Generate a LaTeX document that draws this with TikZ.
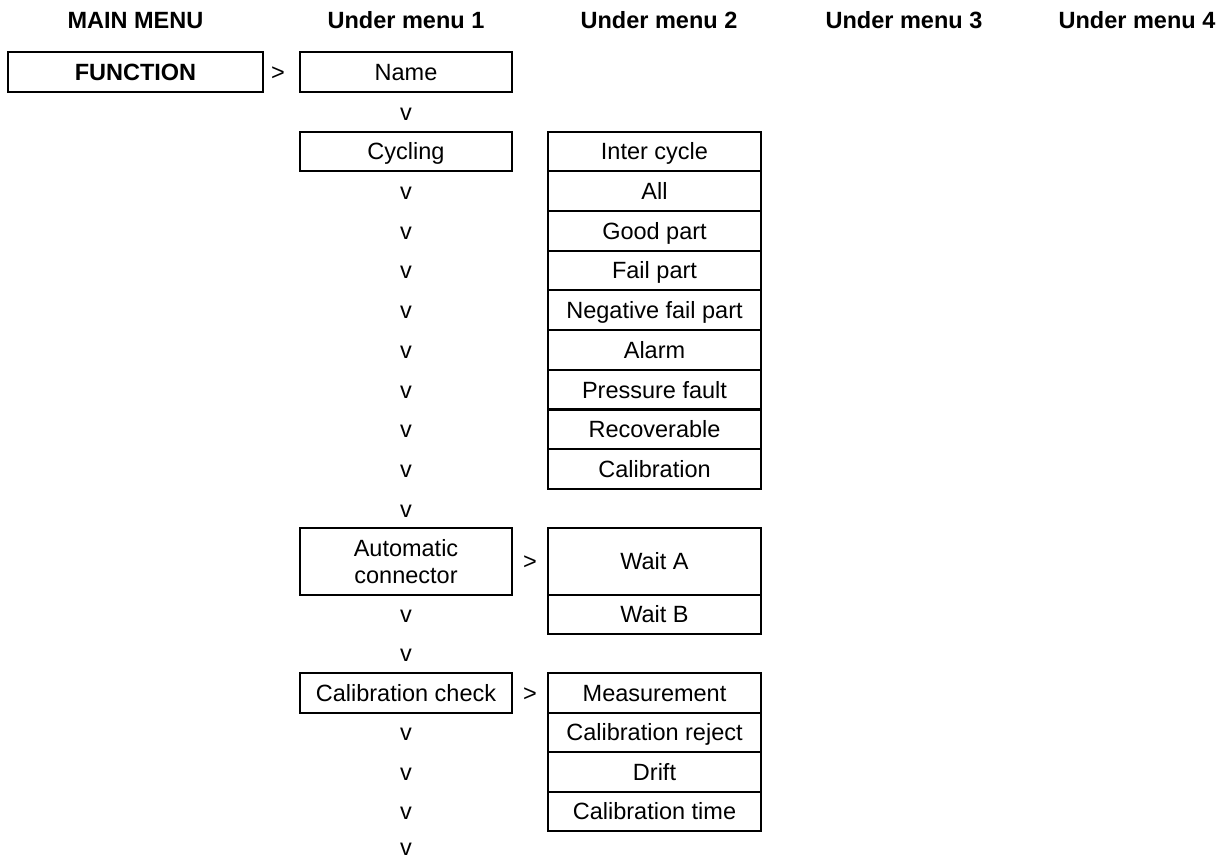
\documentclass[tikz,border=0pt]{standalone}
\usepackage{fontspec}
\setmainfont{Liberation Sans}
\usetikzlibrary{calc}
\newcommand\myfs{\fontsize{11.75}{13.5}\selectfont}
\begin{document}
\begin{tikzpicture}[x=0.5pt,y=-0.5pt,
  every node/.style={inner sep=0pt,font=\myfs,text height=8.4pt,text depth=0pt},
  hdr/.style={font=\myfs\bfseries},
  menubox/.style={draw,line width=1pt,minimum width=106pt,minimum height=19.8pt,align=center},
  subbox/.style={draw,line width=1pt,minimum width=106.5pt,minimum height=19.8pt,align=center},
  mainbox/.style={draw,line width=1pt,minimum width=127.5pt,minimum height=20pt,font=\myfs\bfseries},
  arr/.style={font=\myfs}]
\useasboundingbox (0,0) rectangle (1229,858);
% headers
\node[hdr] (h0) at (135.5,20) {MAIN MENU};
\node[hdr] (h1) at (406,20) {Under menu 1};
\node[hdr] (h2) at (659,20) {Under menu 2};
\node[hdr] (h3) at (904,20) {Under menu 3};
\node[hdr] (h4) at (1137,20) {Under menu 4};
% main
\node[mainbox] (func) at (135.5,72) {FUNCTION};
\node[menubox] (name) at (406,72) {Name};
\node[arr] (g1) at (278,72) {>};
\node[arr] (v1) at (406,111.7) {v};
% cycling
\node[menubox] (cyc) at (406,151.4) {Cycling};
\node[subbox] (s1) at (654.5,151.4) {Inter cycle};
\node[subbox] (s2) at (654.5,191.1) {All};
\node[subbox] (s3) at (654.5,230.8) {Good part};
\node[subbox] (s4) at (654.5,270.5) {Fail part};
\node[subbox] (s5) at (654.5,310.2) {Negative fail part};
\node[subbox] (s6) at (654.5,349.9) {Alarm};
\node[subbox] (s7) at (654.5,389.6) {Pressure fault};
\node[subbox] (s8) at (654.5,429.3) {Recoverable};
\node[subbox] (s9) at (654.5,469) {Calibration};
\foreach \y/\n in {191.1/a,230.8/b,270.5/c,310.2/d,349.9/e,389.6/f,429.3/g,469/h,508.7/i}
  \node[arr] (v\n) at (406,\y) {v};
% automatic connector
\node[menubox,minimum height=33.5pt,text height={},text depth={}] (auto) at (406,561.5) {Automatic\\connector};
\node[subbox,minimum height=33.5pt] (wa) at (654.5,561.5) {Wait A};
\node[subbox,minimum height=19.5pt] (wb) at (654.5,614.5) {Wait B};
\node[arr] (g2) at ($(auto.east)!0.5!(wa.west)$) {>};
\node[arr] (vj) at (406,614.5) {v};
\node[arr] (vk) at (406,653.5) {v};
% calibration check
\node[menubox] (cal) at (406,693) {Calibration check};
\node[subbox] (m1) at (654.5,693) {Measurement};
\node[subbox] (m2) at (654.5,732.5) {Calibration reject};
\node[subbox] (m3) at (654.5,772) {Drift};
\node[subbox] (m4) at (654.5,811.5) {Calibration time};
\node[arr] (g3) at ($(cal.east)!0.5!(m1.west)$) {>};
\foreach \y/\n in {732.5/l,772/m,811.5/n,847.5/o}
  \node[arr] (v\n) at (406,\y) {v};
\end{tikzpicture}
\end{document}
